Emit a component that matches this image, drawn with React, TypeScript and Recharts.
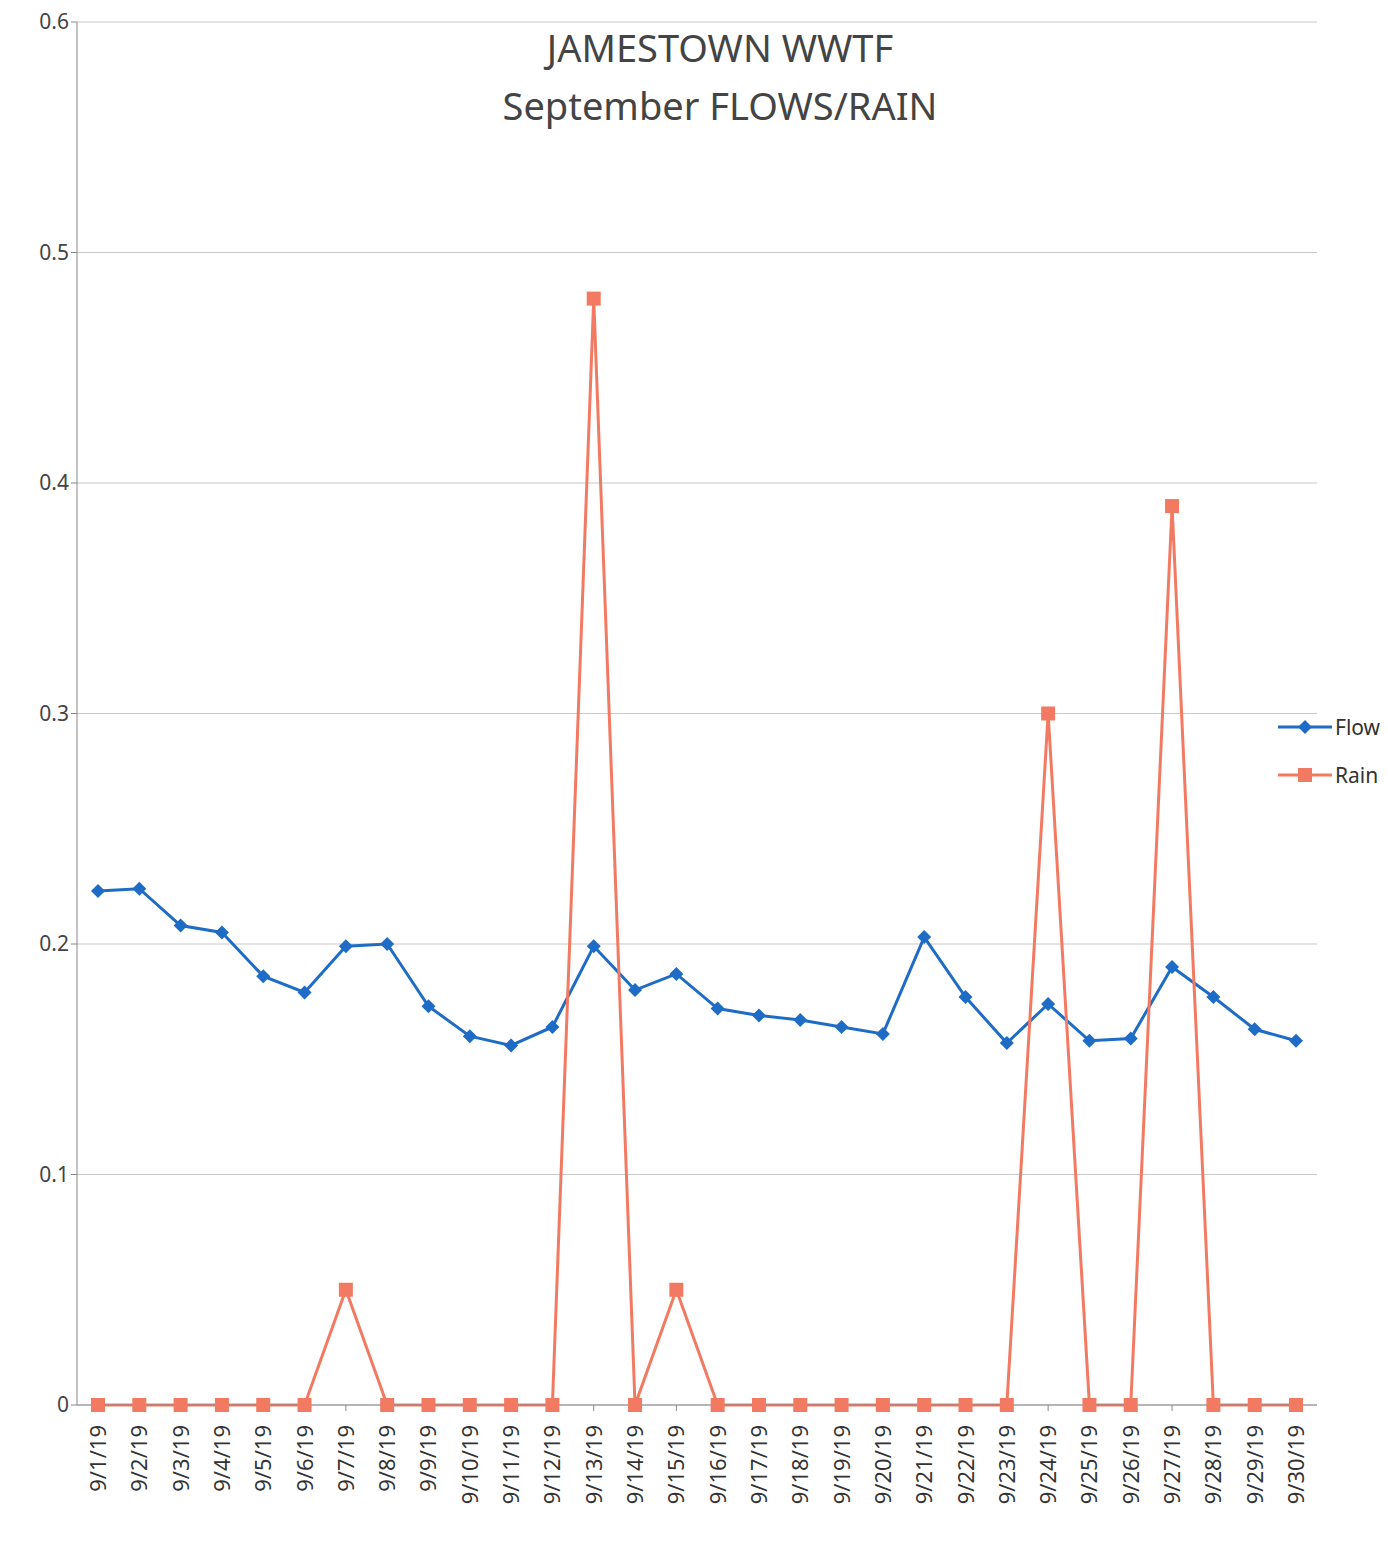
import React from 'react'
import { LineChart, Line, XAxis, YAxis, CartesianGrid } from 'recharts'

// Daily readings for September 2019
const days = [
  '9/1/19', '9/2/19', '9/3/19', '9/4/19', '9/5/19', '9/6/19', '9/7/19', '9/8/19', '9/9/19', '9/10/19',
  '9/11/19', '9/12/19', '9/13/19', '9/14/19', '9/15/19', '9/16/19', '9/17/19', '9/18/19', '9/19/19', '9/20/19',
  '9/21/19', '9/22/19', '9/23/19', '9/24/19', '9/25/19', '9/26/19', '9/27/19', '9/28/19', '9/29/19', '9/30/19'
]

const flow = [
  0.223, 0.224, 0.208, 0.205, 0.186, 0.179, 0.199, 0.2, 0.173, 0.16,
  0.156, 0.164, 0.199, 0.18, 0.187, 0.172, 0.169, 0.167, 0.164, 0.161,
  0.203, 0.177, 0.157, 0.174, 0.158, 0.159, 0.19, 0.177, 0.163, 0.158
]

const rain = [
  0, 0, 0, 0, 0, 0, 0.05, 0, 0, 0,
  0, 0, 0.48, 0, 0.05, 0, 0, 0, 0, 0,
  0, 0, 0, 0.3, 0, 0, 0.39, 0, 0, 0
]

const yTicks = [0, 0.1, 0.2, 0.3, 0.4, 0.5, 0.6]

const FLOW_COLOR = '#1f6cc6'
const RAIN_COLOR = '#f27a62'
const FONT = '"Noto Sans", "Open Sans", sans-serif'

const data = days.map((d, i) => ({ day: d, Flow: flow[i], Rain: rain[i] }))

function Diamond(props: any) {
  const { cx, cy } = props
  if (cx == null || cy == null) return null
  const s = 7
  return (
    <polygon
      points={`${cx},${cy - s} ${cx + s},${cy} ${cx},${cy + s} ${cx - s},${cy}`}
      fill={FLOW_COLOR}
    />
  )
}

function Square(props: any) {
  const { cx, cy } = props
  if (cx == null || cy == null) return null
  return <rect x={cx - 7} y={cy - 7} width={14} height={14} fill={RAIN_COLOR} />
}

function DayTick(props: any) {
  const { x, y, payload } = props
  return (
    <g transform={`translate(${x + 8},${y + 12})`}>
      <text transform="rotate(-90)" textAnchor="end" fill="#333" fontSize={22} fontFamily={FONT}>
        {payload.value}
      </text>
    </g>
  )
}

function LegendBox() {
  const items = [
    { name: 'Flow', color: FLOW_COLOR, shape: 'diamond' },
    { name: 'Rain', color: RAIN_COLOR, shape: 'square' }
  ]
  return (
    <div
      style={{
        position: 'absolute',
        left: 1278,
        top: 703,
        fontFamily: FONT,
        fontSize: 21,
        color: '#333'
      }}
    >
      {items.map((it) => (
        <div key={it.name} style={{ display: 'flex', alignItems: 'center', height: 48 }}>
          <svg width={54} height={20} style={{ marginRight: 3 }}>
            <line x1={0} y1={10} x2={54} y2={10} stroke={it.color} strokeWidth={3} />
            {it.shape === 'diamond' ? (
              <polygon points="27,3 34,10 27,17 20,10" fill={it.color} />
            ) : (
              <rect x={20} y={3} width={14} height={14} fill={it.color} />
            )}
          </svg>
          <span>{it.name}</span>
        </div>
      ))}
    </div>
  )
}

export default function App() {
  return (
    <div style={{ position: 'relative', width: 1388, height: 1541, margin: -8, background: '#fff' }}>
      <div
        style={{
          position: 'absolute',
          left: 420,
          width: 600,
          top: 18,
          textAlign: 'center',
          fontFamily: FONT,
          fontSize: 38,
          lineHeight: '58px',
          color: '#444',
          zIndex: 2
        }}
      >
        <div>JAMESTOWN WWTF</div>
        <div>September FLOWS/RAIN</div>
      </div>
      <LegendBox />
      <LineChart
        width={1388}
        height={1541}
        data={data}
        margin={{ top: 22, right: 71, bottom: 11, left: 17 }}
      >
        <CartesianGrid vertical={false} stroke="#c8c8c8" />
        <XAxis
          dataKey="day"
          interval={0}
          height={125}
          padding={{ left: 21, right: 21 }}
          tick={<DayTick />}
          tickLine={{ stroke: '#888' }}
          axisLine={{ stroke: '#888' }}
        />
        <YAxis
          width={60}
          domain={[0, 0.6]}
          ticks={yTicks}
          tickFormatter={(v: number) => (v === 0 ? '0' : v.toFixed(1))}
          tick={{ fill: '#444', fontSize: 21, fontFamily: FONT }}
          tickLine={{ stroke: '#888' }}
          axisLine={{ stroke: '#888' }}
        />
        <Line
          type="linear"
          dataKey="Flow"
          stroke={FLOW_COLOR}
          strokeWidth={3}
          dot={<Diamond />}
          isAnimationActive={false}
        />
        <Line
          type="linear"
          dataKey="Rain"
          stroke={RAIN_COLOR}
          strokeWidth={3}
          dot={<Square />}
          isAnimationActive={false}
        />
      </LineChart>
    </div>
  )
}
